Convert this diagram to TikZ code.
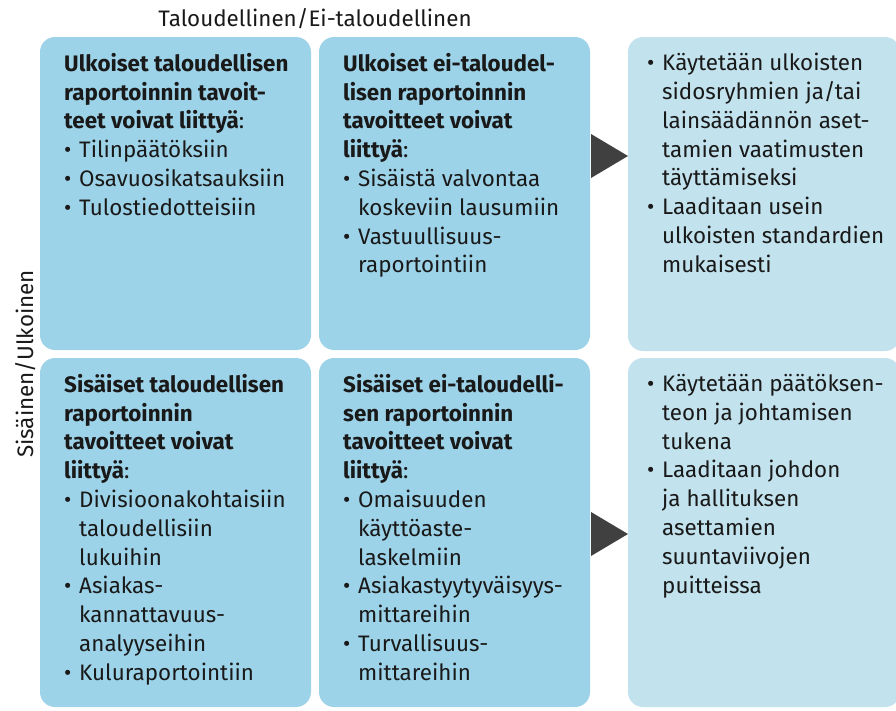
\documentclass[tikz,border=0pt]{standalone}
\usepackage{fontspec}
\setmainfont{Fira Sans}
\usetikzlibrary{positioning}
\definecolor{boxblue}{RGB}{157,211,232}
\definecolor{paleblue}{RGB}{194,226,237}
\definecolor{arrowgray}{RGB}{64,64,64}
\definecolor{inkblack}{RGB}{25,25,25}
\newcommand{\bul}{\makebox[15pt][l]{\textbullet}}
\newcommand{\ind}{\hspace*{15pt}}

\begin{document}
\begin{tikzpicture}[x=1pt,y=-1pt]
  \tikzstyle{cell}=[rounded corners=15pt,fill=boxblue,inner sep=0pt,outer sep=0pt,anchor=north west,minimum width=271pt]
  \tikzstyle{panel}=[cell,fill=paleblue,minimum width=272pt]
  \tikzstyle{txt}=[inner sep=0pt,align=left,text=inkblack,font=\fontsize{22.4}{28.8}\selectfont]
  \useasboundingbox (0,0) rectangle (896,710);
  \clip (0,0) rectangle (896,710);

  \node[cell,minimum height=313pt] (B_1) at (40,37) {};
  \node[cell,minimum height=313pt] (B_2) at (319,37) {};
  \node[panel,minimum height=314pt] (B_3) at (628,37) {};
  \node[cell,minimum height=349pt] (B_4) at (40,358) {};
  \node[cell,minimum height=349pt] (B_5) at (319,358) {};
  \node[panel,minimum height=349pt] (B_6) at (628,358) {};

  \fill[arrowgray] (591,134) -- (628,156) -- (591,178) -- cycle;
  \fill[arrowgray] (591,512) -- (628,534) -- (591,556) -- cycle;

  \node[txt,anchor=base] (L_h) at (315,26) {Taloudellinen/Ei-taloudellinen};
  \node[txt,anchor=base,rotate=90] (L_v) at (33,364) {Sisäinen/Ulkoinen};

  \node[txt,below right=16pt and 24pt of B_1.north west] (T_1) {%
    \textbf{Ulkoiset taloudellisen}\\
    \textbf{raportoinnin tavoit-}\\
    \textbf{teet voivat liittyä}:\\
    \bul Tilinpäätöksiin\\
    \bul Osavuosikatsauksiin\\
    \bul Tulostiedotteisiin};
  \node[txt,below right=16pt and 24pt of B_2.north west] (T_2) {%
    \textbf{Ulkoiset ei-taloudel-}\\
    \textbf{lisen raportoinnin}\\
    \textbf{tavoitteet voivat}\\
    \textbf{liittyä}:\\
    \bul Sisäistä valvontaa\\
    \ind koskeviin lausumiin\\
    \bul Vastuullisuus-\\
    \ind raportointiin};
  \node[txt,below right=16pt and 19pt of B_3.north west] (T_3) {%
    \bul Käytetään ulkoisten\\
    \ind sidosryhmien ja/tai\\
    \ind lainsäädännön aset-\\
    \ind tamien vaatimusten\\
    \ind täyttämiseksi\\
    \bul Laaditaan usein\\
    \ind ulkoisten standardien\\
    \ind mukaisesti};
  \node[txt,below right=16pt and 24pt of B_4.north west] (T_4) {%
    \textbf{Sisäiset taloudellisen}\\
    \textbf{raportoinnin}\\
    \textbf{tavoitteet voivat}\\
    \textbf{liittyä}:\\
    \bul Divisioonakohtaisiin\\
    \ind taloudellisiin\\
    \ind lukuihin\\
    \bul Asiakas-\\
    \ind kannattavuus-\\
    \ind analyyseihin\\
    \bul Kuluraportointiin};
  \node[txt,below right=16pt and 24pt of B_5.north west] (T_5) {%
    \textbf{Sisäiset ei-taloudelli-}\\
    \textbf{sen raportoinnin}\\
    \textbf{tavoitteet voivat}\\
    \textbf{liittyä}:\\
    \bul Omaisuuden\\
    \ind käyttöaste-\\
    \ind laskelmiin\\
    \bul Asiakastyytyväisyys-\\
    \ind mittareihin\\
    \bul Turvallisuus-\\
    \ind mittareihin};
  \node[txt,below right=16pt and 19pt of B_6.north west] (T_6) {%
    \bul Käytetään päätöksen-\\
    \ind teon ja johtamisen\\
    \ind tukena\\
    \bul Laaditaan johdon\\
    \ind ja hallituksen\\
    \ind asettamien\\
    \ind suuntaviivojen\\
    \ind puitteissa};
\end{tikzpicture}
\end{document}
